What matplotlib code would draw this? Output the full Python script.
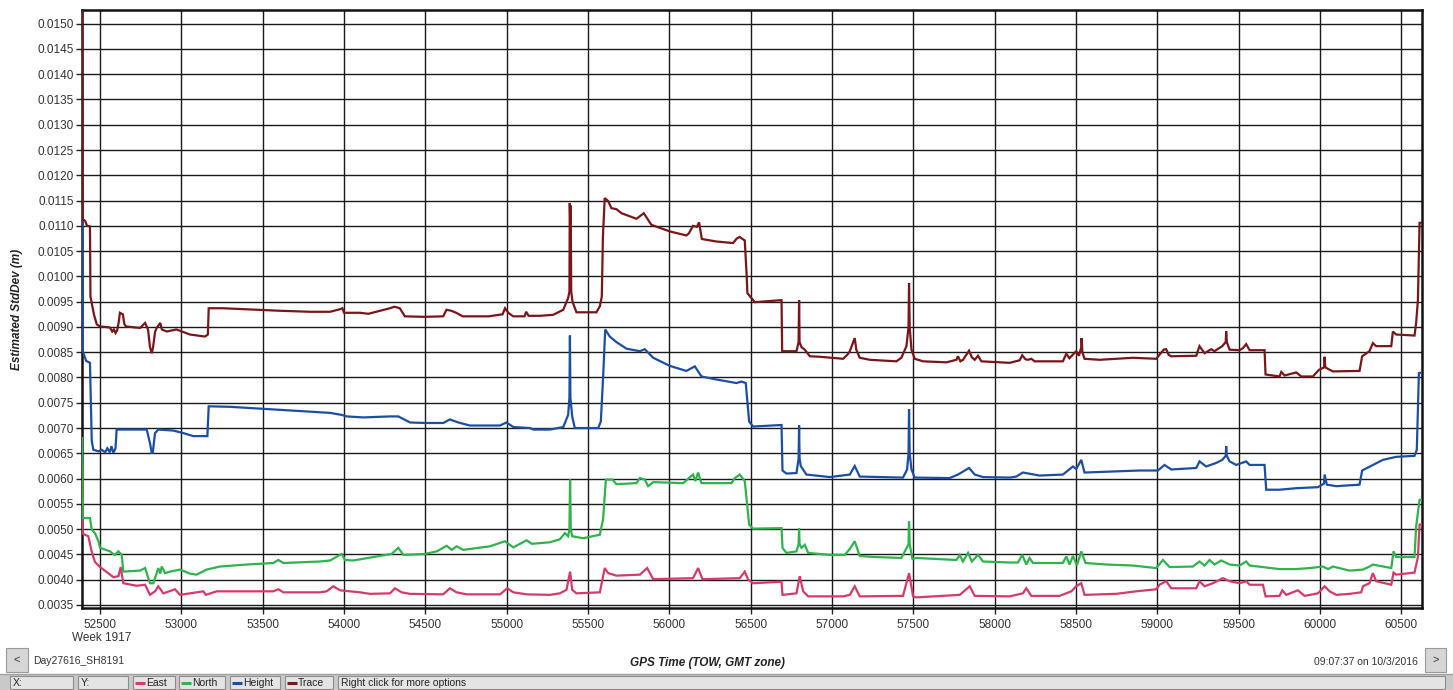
import numpy as np
import matplotlib
matplotlib.use("Agg")
import matplotlib.pyplot as plt
from matplotlib.patches import Rectangle
from matplotlib.ticker import MultipleLocator, FormatStrFormatter

plt.rcParams['font.family'] = ['Liberation Sans', 'DejaVu Sans']

# (GPS time of week, estimated std dev in m)
trace_pts = [
    (52390, 0.01530), (52393, 0.01113), (52408, 0.01110), (52420, 0.01100), (52438, 0.01099),
    (52441, 0.00960), (52449, 0.00947), (52463, 0.00924), (52480, 0.00905), (52500, 0.00901),
    (52560, 0.00899), (52575, 0.00891), (52585, 0.00895), (52595, 0.00888), (52605, 0.00893),
    (52615, 0.00910), (52622, 0.00928), (52640, 0.00925), (52650, 0.00905), (52660, 0.00901),
    (52746, 0.00898), (52777, 0.00908), (52795, 0.00895), (52807, 0.00860), (52818, 0.00848),
    (52826, 0.00860), (52838, 0.00890), (52848, 0.00898), (52870, 0.00908), (52880, 0.00895),
    (52910, 0.00891), (52970, 0.00895), (53053, 0.00885), (53145, 0.00881), (53163, 0.00885),
    (53168, 0.00937), (53256, 0.00937), (53606, 0.00932), (53791, 0.00930), (53914, 0.00930),
    (53975, 0.00935), (53990, 0.00937), (54000, 0.00928), (54100, 0.00928), (54150, 0.00926),
    (54282, 0.00937), (54310, 0.00940), (54343, 0.00937), (54374, 0.00921), (54497, 0.00920),
    (54610, 0.00921), (54630, 0.00934), (54660, 0.00932), (54690, 0.00928), (54730, 0.00921),
    (54890, 0.00921), (54975, 0.00925), (54990, 0.00937), (55010, 0.00928), (55040, 0.00921),
    (55110, 0.00921), (55120, 0.00930), (55135, 0.00922), (55204, 0.00922), (55286, 0.00924),
    (55348, 0.00934), (55378, 0.00957), (55386, 0.00970), (55388, 0.01145), (55391, 0.01106),
    (55394, 0.01140), (55397, 0.00970), (55405, 0.00950), (55429, 0.00929), (55552, 0.00929),
    (55573, 0.00941), (55585, 0.00960), (55592, 0.01080), (55603, 0.01155), (55624, 0.01149),
    (55644, 0.01135), (55675, 0.01133), (55706, 0.01125), (55798, 0.01114), (55819, 0.01119),
    (55843, 0.01125), (55890, 0.01102), (56003, 0.01089), (56105, 0.01081), (56120, 0.01085),
    (56146, 0.01100), (56170, 0.01098), (56183, 0.01107), (56200, 0.01074), (56290, 0.01069),
    (56392, 0.01066), (56415, 0.01075), (56433, 0.01078), (56464, 0.01071), (56476, 0.01000),
    (56480, 0.00967), (56495, 0.00961), (56526, 0.00949), (56690, 0.00953), (56694, 0.00852),
    (56782, 0.00852), (56795, 0.00870), (56798, 0.00953), (56801, 0.00870), (56813, 0.00860),
    (56833, 0.00855), (56864, 0.00842), (56925, 0.00841), (57069, 0.00837), (57095, 0.00845),
    (57110, 0.00852), (57140, 0.00878), (57150, 0.00855), (57171, 0.00839), (57233, 0.00835),
    (57396, 0.00832), (57427, 0.00839), (57458, 0.00862), (57471, 0.00900), (57474, 0.00987),
    (57478, 0.00900), (57489, 0.00855), (57509, 0.00837), (57560, 0.00832), (57704, 0.00830),
    (57765, 0.00835), (57775, 0.00842), (57790, 0.00832), (57806, 0.00835), (57843, 0.00853),
    (57860, 0.00840), (57878, 0.00835), (57898, 0.00843), (57919, 0.00832), (58093, 0.00829),
    (58154, 0.00834), (58170, 0.00844), (58190, 0.00836), (58205, 0.00835), (58226, 0.00837),
    (58246, 0.00832), (58420, 0.00832), (58441, 0.00847), (58460, 0.00838), (58472, 0.00842),
    (58502, 0.00852), (58519, 0.00843), (58533, 0.00860), (58535, 0.00878), (58540, 0.00850),
    (58553, 0.00837), (58646, 0.00835), (58850, 0.00839), (58994, 0.00837), (59014, 0.00845),
    (59040, 0.00855), (59055, 0.00856), (59070, 0.00845), (59086, 0.00842), (59240, 0.00843),
    (59260, 0.00862), (59291, 0.00848), (59332, 0.00856), (59352, 0.00852), (59400, 0.00862),
    (59421, 0.00870), (59424, 0.00891), (59428, 0.00870), (59445, 0.00855), (59506, 0.00854),
    (59527, 0.00858), (59547, 0.00866), (59568, 0.00854), (59660, 0.00854), (59666, 0.00806),
    (59752, 0.00802), (59763, 0.00811), (59783, 0.00804), (59855, 0.00810), (59886, 0.00802),
    (59957, 0.00802), (59994, 0.00815), (60026, 0.00820), (60029, 0.00841), (60033, 0.00822),
    (60039, 0.00819), (60080, 0.00812), (60244, 0.00813), (60260, 0.00842), (60305, 0.00852),
    (60326, 0.00868), (60346, 0.00862), (60439, 0.00862), (60449, 0.00891), (60469, 0.00885),
    (60582, 0.00883), (60592, 0.00908), (60603, 0.00954), (60613, 0.01106), (60625, 0.01106),
]

height_pts = [
    (52390, 0.01195), (52393, 0.00853), (52414, 0.00833), (52438, 0.00829), (52449, 0.00674),
    (52459, 0.00657), (52490, 0.00654), (52510, 0.00657), (52531, 0.00652), (52545, 0.00660),
    (52560, 0.00652), (52570, 0.00664), (52582, 0.00651), (52595, 0.00660), (52602, 0.00697),
    (52787, 0.00697), (52807, 0.00670), (52818, 0.00651), (52824, 0.00651), (52838, 0.00690),
    (52858, 0.00697), (52951, 0.00695), (53012, 0.00690), (53074, 0.00684), (53160, 0.00684),
    (53168, 0.00743), (53299, 0.00742), (53504, 0.00738), (53852, 0.00731), (53914, 0.00730),
    (53986, 0.00726), (54016, 0.00723), (54119, 0.00721), (54283, 0.00723), (54334, 0.00723),
    (54406, 0.00711), (54498, 0.00710), (54610, 0.00710), (54651, 0.00717), (54703, 0.00711),
    (54774, 0.00705), (54959, 0.00705), (54999, 0.00711), (55041, 0.00702), (55143, 0.00700),
    (55164, 0.00697), (55266, 0.00697), (55348, 0.00702), (55378, 0.00726), (55386, 0.00760),
    (55389, 0.00883), (55392, 0.00760), (55403, 0.00723), (55419, 0.00700), (55563, 0.00700),
    (55579, 0.00713), (55593, 0.00800), (55606, 0.00895), (55634, 0.00881), (55675, 0.00870),
    (55737, 0.00857), (55819, 0.00852), (55849, 0.00856), (55901, 0.00839), (56003, 0.00823),
    (56105, 0.00813), (56157, 0.00822), (56198, 0.00802), (56290, 0.00796), (56413, 0.00789),
    (56444, 0.00792), (56470, 0.00789), (56491, 0.00713), (56515, 0.00703), (56690, 0.00706),
    (56696, 0.00616), (56720, 0.00610), (56782, 0.00611), (56795, 0.00640), (56798, 0.00705),
    (56801, 0.00640), (56808, 0.00625), (56843, 0.00608), (56987, 0.00603), (57110, 0.00608),
    (57140, 0.00625), (57171, 0.00604), (57437, 0.00602), (57462, 0.00618), (57471, 0.00650),
    (57474, 0.00737), (57478, 0.00650), (57489, 0.00618), (57509, 0.00602), (57724, 0.00601),
    (57775, 0.00608), (57843, 0.00621), (57878, 0.00608), (57929, 0.00603), (58093, 0.00602),
    (58133, 0.00604), (58174, 0.00612), (58277, 0.00606), (58420, 0.00608), (58451, 0.00616),
    (58482, 0.00624), (58502, 0.00619), (58533, 0.00637), (58553, 0.00612), (58728, 0.00614),
    (58891, 0.00616), (59004, 0.00616), (59045, 0.00627), (59086, 0.00618), (59240, 0.00621),
    (59260, 0.00634), (59301, 0.00624), (59363, 0.00631), (59400, 0.00637), (59421, 0.00645),
    (59424, 0.00664), (59428, 0.00645), (59445, 0.00634), (59486, 0.00627), (59547, 0.00634),
    (59568, 0.00627), (59660, 0.00627), (59670, 0.00578), (59752, 0.00578), (59855, 0.00581),
    (59988, 0.00583), (60025, 0.00590), (60029, 0.00608), (60043, 0.00588), (60101, 0.00585),
    (60244, 0.00588), (60260, 0.00616), (60326, 0.00627), (60387, 0.00637), (60469, 0.00643),
    (60582, 0.00645), (60596, 0.00657), (60609, 0.00809), (60625, 0.00809),
]

north_pts = [
    (52390, 0.00680), (52393, 0.00522), (52438, 0.00522), (52449, 0.00499), (52469, 0.00492),
    (52490, 0.00476), (52500, 0.00463), (52561, 0.00456), (52580, 0.00451), (52592, 0.00449),
    (52613, 0.00456), (52633, 0.00449), (52643, 0.00416), (52746, 0.00418), (52777, 0.00423),
    (52807, 0.00393), (52828, 0.00393), (52858, 0.00423), (52870, 0.00412), (52879, 0.00426),
    (52900, 0.00413), (52930, 0.00416), (52992, 0.00420), (53053, 0.00412), (53094, 0.00410),
    (53155, 0.00420), (53237, 0.00426), (53401, 0.00430), (53565, 0.00433), (53596, 0.00439),
    (53627, 0.00433), (53852, 0.00436), (53914, 0.00438), (53986, 0.00451), (54006, 0.00439),
    (54057, 0.00438), (54201, 0.00446), (54293, 0.00451), (54334, 0.00463), (54365, 0.00449),
    (54498, 0.00451), (54570, 0.00456), (54631, 0.00467), (54662, 0.00459), (54692, 0.00466),
    (54733, 0.00459), (54897, 0.00466), (54989, 0.00476), (55041, 0.00464), (55123, 0.00478),
    (55154, 0.00471), (55266, 0.00474), (55327, 0.00480), (55358, 0.00492), (55378, 0.00486),
    (55386, 0.00500), (55390, 0.00598), (55394, 0.00500), (55403, 0.00486), (55470, 0.00482),
    (55573, 0.00489), (55593, 0.00520), (55610, 0.00598), (55634, 0.00598), (55651, 0.00598),
    (55675, 0.00589), (55798, 0.00591), (55819, 0.00601), (55849, 0.00598), (55870, 0.00585),
    (55901, 0.00593), (56085, 0.00591), (56146, 0.00608), (56160, 0.00595), (56177, 0.00612),
    (56198, 0.00591), (56382, 0.00591), (56403, 0.00601), (56433, 0.00608), (56464, 0.00595),
    (56491, 0.00509), (56515, 0.00501), (56690, 0.00502), (56696, 0.00463), (56720, 0.00453),
    (56782, 0.00456), (56795, 0.00470), (56798, 0.00502), (56801, 0.00470), (56813, 0.00463),
    (56833, 0.00469), (56854, 0.00453), (56987, 0.00449), (57079, 0.00449), (57110, 0.00461),
    (57140, 0.00476), (57171, 0.00447), (57253, 0.00445), (57427, 0.00443), (57448, 0.00456),
    (57471, 0.00470), (57474, 0.00515), (57478, 0.00470), (57495, 0.00441), (57519, 0.00443),
    (57765, 0.00439), (57786, 0.00449), (57805, 0.00436), (57837, 0.00453), (57860, 0.00436),
    (57898, 0.00449), (57929, 0.00436), (58093, 0.00434), (58144, 0.00434), (58170, 0.00449),
    (58195, 0.00430), (58215, 0.00443), (58236, 0.00433), (58420, 0.00433), (58441, 0.00446),
    (58461, 0.00430), (58482, 0.00447), (58506, 0.00428), (58533, 0.00456), (58559, 0.00433),
    (58687, 0.00430), (58850, 0.00428), (58994, 0.00423), (59035, 0.00439), (59076, 0.00425),
    (59219, 0.00426), (59260, 0.00436), (59291, 0.00428), (59322, 0.00439), (59352, 0.00430),
    (59393, 0.00438), (59445, 0.00430), (59506, 0.00428), (59547, 0.00436), (59568, 0.00428),
    (59752, 0.00421), (59855, 0.00421), (59937, 0.00423), (60019, 0.00426), (60050, 0.00421),
    (60080, 0.00426), (60183, 0.00418), (60265, 0.00420), (60305, 0.00426), (60326, 0.00430),
    (60439, 0.00423), (60453, 0.00456), (60469, 0.00445), (60582, 0.00445), (60592, 0.00505),
    (60613, 0.00558), (60625, 0.00558),
]

east_pts = [
    (52390, 0.00630), (52393, 0.00491), (52428, 0.00486), (52449, 0.00455), (52469, 0.00435),
    (52500, 0.00425), (52541, 0.00415), (52582, 0.00405), (52613, 0.00407), (52627, 0.00425),
    (52643, 0.00393), (52725, 0.00388), (52777, 0.00390), (52807, 0.00370), (52838, 0.00377),
    (52858, 0.00387), (52889, 0.00373), (52961, 0.00381), (52992, 0.00370), (53053, 0.00373),
    (53135, 0.00377), (53150, 0.00370), (53217, 0.00377), (53565, 0.00377), (53596, 0.00381),
    (53627, 0.00375), (53852, 0.00375), (53893, 0.00377), (53934, 0.00387), (53975, 0.00379),
    (54098, 0.00375), (54160, 0.00372), (54283, 0.00373), (54313, 0.00383), (54354, 0.00375),
    (54406, 0.00372), (54610, 0.00371), (54651, 0.00383), (54692, 0.00375), (54754, 0.00371),
    (54959, 0.00371), (55004, 0.00383), (55041, 0.00375), (55123, 0.00371), (55266, 0.00370),
    (55327, 0.00373), (55368, 0.00380), (55390, 0.00416), (55403, 0.00380), (55429, 0.00373),
    (55573, 0.00375), (55603, 0.00423), (55624, 0.00413), (55675, 0.00408), (55819, 0.00410),
    (55864, 0.00423), (55901, 0.00401), (56146, 0.00403), (56177, 0.00423), (56204, 0.00401),
    (56433, 0.00403), (56464, 0.00416), (56485, 0.00400), (56515, 0.00393), (56690, 0.00396),
    (56696, 0.00370), (56782, 0.00373), (56802, 0.00407), (56823, 0.00377), (56854, 0.00367),
    (57069, 0.00367), (57110, 0.00370), (57140, 0.00387), (57171, 0.00367), (57437, 0.00368),
    (57474, 0.00413), (57499, 0.00367), (57519, 0.00365), (57786, 0.00370), (57847, 0.00387),
    (57878, 0.00368), (58093, 0.00367), (58174, 0.00373), (58195, 0.00383), (58226, 0.00368),
    (58400, 0.00368), (58472, 0.00377), (58502, 0.00387), (58533, 0.00393), (58553, 0.00370),
    (58748, 0.00372), (58871, 0.00377), (58994, 0.00381), (59014, 0.00390), (59055, 0.00397),
    (59086, 0.00383), (59240, 0.00383), (59260, 0.00397), (59291, 0.00387), (59342, 0.00393),
    (59404, 0.00403), (59445, 0.00397), (59506, 0.00393), (59547, 0.00397), (59568, 0.00390),
    (59650, 0.00390), (59666, 0.00367), (59752, 0.00368), (59769, 0.00379), (59793, 0.00370),
    (59865, 0.00379), (59906, 0.00368), (59988, 0.00373), (60029, 0.00387), (60060, 0.00377),
    (60101, 0.00370), (60183, 0.00372), (60254, 0.00375), (60265, 0.00387), (60305, 0.00393),
    (60326, 0.00413), (60346, 0.00397), (60439, 0.00390), (60453, 0.00414), (60469, 0.00410),
    (60582, 0.00414), (60603, 0.00445), (60613, 0.00509), (60625, 0.00509),
]

series_names = ['East', 'North', 'Height', 'Trace']
series_colors = ['#d63a6a', '#2fb34c', '#1c4fa3', '#7a1619']
x_ticks = list(range(52500, 61000, 500))
x_range = (52389, 60628)
y_range = (0.00344, 0.01527)

W, H = 1453, 690
fig = plt.figure(figsize=(W / 100, H / 100), dpi=100)
fig.patch.set_facecolor('white')

# main plot area, placed in pixel terms
l, r, t, b = 82, 1422, 10, 608
ax = fig.add_axes([l / W, 1 - b / H, (r - l) / W, (b - t) / H])

for pts, c in zip([east_pts, north_pts, height_pts, trace_pts], series_colors):
    arr = np.array(pts)
    ax.plot(arr[:, 0], arr[:, 1], color=c, lw=1.6, solid_joinstyle='miter', zorder=3)

ax.set_xlim(*x_range)
ax.set_ylim(*y_range)
ax.set_xticks(x_ticks)
ax.yaxis.set_major_locator(MultipleLocator(0.0005))
ax.yaxis.set_major_formatter(FormatStrFormatter('%.4f'))
ax.grid(True, color='#1a1a1a', lw=1.0, zorder=1)
ax.tick_params(axis='both', length=4, width=1, color='#222222', labelsize=8.5,
               labelcolor='#333333', pad=2)
ax.tick_params(axis='x', pad=4)
for s in ax.spines.values():
    s.set_linewidth(1.8)
    s.set_color('#111111')

ax.set_ylabel('Estimated StdDev (m)', fontsize=8.5, fontweight='bold', fontstyle='italic',
              color='#222222', labelpad=10)

# overlay in pixel coordinates for the window furniture
ui = fig.add_axes([0, 0, 1, 1], zorder=-1)
ui.set_xlim(0, W)
ui.set_ylim(H, 0)
ui.axis('off')

ui.text(72, 638, 'Week 1917', fontsize=8.5, color='#333333', va='center', ha='left')
ui.text(707, 663, 'GPS Time (TOW, GMT zone)', fontsize=8.5, fontweight='bold',
        fontstyle='italic', color='#222222', ha='center', va='center')
ui.text(33, 661, 'Day27616_SH8191', fontsize=7.5, color='#333333', va='center')
ui.text(1418, 662, '09:07:37 on 10/3/2016', fontsize=7.5, color='#333333', va='center', ha='right')

# scroll buttons
ui.add_patch(Rectangle((6, 648), 22, 24, facecolor='#d6d6d6', edgecolor='#9a9a9a', lw=0.8))
ui.text(17, 660, '<', fontsize=8, ha='center', va='center', color='#333333')
ui.add_patch(Rectangle((1425, 648), 21, 24, facecolor='#d6d6d6', edgecolor='#9a9a9a', lw=0.8))
ui.text(1435.5, 660, '>', fontsize=8, ha='center', va='center', color='#333333')

# status bar
ui.add_patch(Rectangle((0, 674), W, 16, facecolor='#c9c9c9', edgecolor='none'))
ui.plot([0, W], [674, 674], color='#a0a0a0', lw=1)
cells = [(10, 73, 'X:'), (78, 128, 'Y:'), (133, 175, None), (179, 225, None),
         (230, 280, None), (285, 333, None), (338, 1445, 'Right click for more options')]
for x0, x1, txt in cells:
    ui.add_patch(Rectangle((x0, 676), x1 - x0, 13, facecolor='#e4e4e4', edgecolor='#8c8c8c', lw=0.8))
    if txt:
        ui.text(x0 + 3, 683, txt, fontsize=7.5, color='#222222', va='center')
for (x0, x1, _), name, c in zip(cells[2:6], series_names, series_colors):
    ui.plot([x0 + 2, x0 + 12], [683, 683], color=c, lw=2.2, solid_capstyle='butt')
    ui.text(x0 + 13, 683, name, fontsize=7.5, color='#222222', va='center')

fig.savefig('out.png', dpi=100, facecolor='white')
